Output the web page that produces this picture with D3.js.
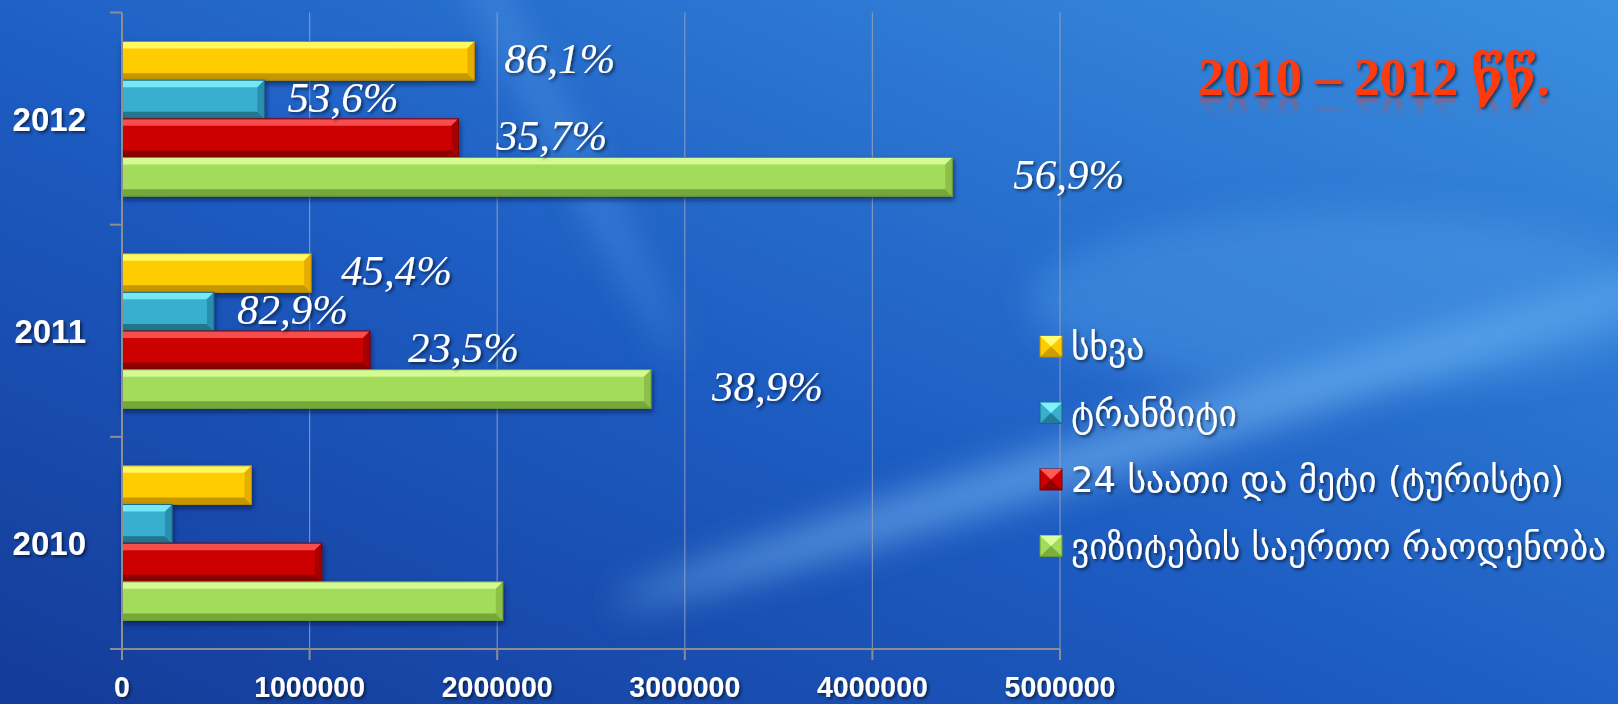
<!DOCTYPE html>
<html>
<head>
<meta charset="utf-8">
<script src="https://cdn.jsdelivr.net/npm/d3@7"></script>
<style>
  html, body { margin: 0; padding: 0; overflow: hidden; background: #1a4aa8; }
  svg { display: block; }
</style>
</head>
<body>
<svg id="chart" width="1618" height="704"></svg>
<script>
// data, rows in the order 2012, 2011, 2010
const years = ['2012', '2011', '2010']
const seriesNames = ['სხვა', 'ტრანზიტი', '24 საათი და მეტი (ტურისტი)', 'ვიზიტების საერთო რაოდენობა']
const otherValues = [1878000, 1008000, 690000]
const transitValues = [759000, 490000, 267000]
const touristValues = [1793000, 1322000, 1065000]
const totalValues = [4426000, 2820000, 2030000]
const otherLabels = ['86,1%', '45,4%', '']
const transitLabels = ['53,6%', '82,9%', '']
const touristLabels = ['35,7%', '23,5%', '']
const totalLabels = ['56,9%', '38,9%', '']
const xTicks = [0, 1000000, 2000000, 3000000, 4000000, 5000000]
const title = '2010 – 2012 წწ.'

const width = 1618, height = 704
const svg = d3.select('#chart')
const defs = svg.append('defs')

// background
const bg = defs.append('linearGradient').attr('id', 'bg')
    .attr('x1', '0').attr('y1', '1').attr('x2', '1').attr('y2', '0')
bg.append('stop').attr('offset', '0%').attr('stop-color', '#143b98')
bg.append('stop').attr('offset', '45%').attr('stop-color', '#1d5cc2')
bg.append('stop').attr('offset', '100%').attr('stop-color', '#3a8fe0')
svg.append('rect').attr('width', width).attr('height', height).attr('fill', 'url(#bg)')

defs.append('filter').attr('id', 'blur').attr('x', '-50%').attr('y', '-50%').attr('width', '200%').attr('height', '200%')
    .append('feGaussianBlur').attr('stdDeviation', 18)
const glow = svg.append('g').attr('filter', 'url(#blur)')
glow.append('ellipse').attr('cx', 1150).attr('cy', 440).attr('rx', 560).attr('ry', 22)
    .attr('transform', 'rotate(-17 1150 440)').attr('fill', '#8fd0ff').attr('opacity', 0.5)
glow.append('ellipse').attr('cx', 1350).attr('cy', 300).attr('rx', 320).attr('ry', 90)
    .attr('fill', '#5aa8f0').attr('opacity', 0.35)
glow.append('ellipse').attr('cx', 560).attr('cy', 130).attr('rx', 260).attr('ry', 14)
    .attr('transform', 'rotate(62 560 130)').attr('fill', '#7cc4ff').attr('opacity', 0.3)

const shadow = defs.append('filter').attr('id', 'shadow').attr('x', '-10%').attr('y', '-20%').attr('width', '130%').attr('height', '160%')
shadow.append('feDropShadow').attr('dx', 2).attr('dy', 2).attr('stdDeviation', 1.5)
    .attr('flood-color', '#000').attr('flood-opacity', 0.55)
const barShadow = defs.append('filter').attr('id', 'barShadow').attr('x', '-5%').attr('y', '-20%').attr('width', '110%').attr('height', '160%')
barShadow.append('feDropShadow').attr('dx', 1).attr('dy', 3).attr('stdDeviation', 2.5)
    .attr('flood-color', '#001030').attr('flood-opacity', 0.6)

// scales
const x = d3.scaleLinear().domain([0, 5000000]).range([122, 1060])
const y = d3.scaleBand().domain(years).range([12.5, 649]).padding(0)
const inner = d3.scaleBand().domain(d3.range(4)).range([29, y.bandwidth() - 28.5]).padding(0)

const series = [
    { values: otherValues, labels: otherLabels, base: '#ffcc00', light: '#ffff70', dark: '#b88a00', side: '#e6ae00', dx: 30 },
    { values: transitValues, labels: transitLabels, base: '#38afcf', light: '#80f2ff', dark: '#1b6880', side: '#2b8fae', dx: 23 },
    { values: touristValues, labels: touristLabels, base: '#cc0000', light: '#ff5a5a', dark: '#7a0000', side: '#a80000', dx: 38 },
    { values: totalValues, labels: totalLabels, base: '#a2dc5a', light: '#dcff9e', dark: '#6b9a32', side: '#8cc048', dx: 61 }
]

// grid
svg.append('g').selectAll('line').data(xTicks.slice(1)).enter().append('line')
    .attr('x1', d => x(d)).attr('x2', d => x(d))
    .attr('y1', 12.5).attr('y2', 649)
    .attr('stroke', '#9aa6bf').attr('stroke-opacity', 0.75).attr('stroke-width', 1.2)

// bars
const bevel = 7
series.forEach((s, si) => {
    const g = svg.append('g').attr('filter', 'url(#barShadow)')
    years.forEach((yr, i) => {
        const x0 = x(0), x1 = x(s.values[i])
        const y0 = y(yr) + inner(si), y1 = y0 + inner.bandwidth()
        const b = Math.min(bevel, (x1 - x0) / 2)
        const bar = g.append('g')
        bar.append('rect').attr('x', x0).attr('y', y0).attr('width', x1 - x0).attr('height', y1 - y0)
            .attr('fill', s.base)
        bar.append('polygon').attr('points', [[x0, y0], [x1, y0], [x1 - b, y0 + b], [x0, y0 + b]].join(' '))
            .attr('fill', s.light).attr('opacity', 0.85)
        bar.append('polygon').attr('points', [[x0, y1], [x1, y1], [x1 - b, y1 - b], [x0, y1 - b]].join(' '))
            .attr('fill', s.dark).attr('opacity', 0.8)
        bar.append('polygon').attr('points', [[x1, y0], [x1, y1], [x1 - b, y1 - b], [x1 - b, y0 + b]].join(' '))
            .attr('fill', s.side)
        bar.append('rect').attr('x', x0).attr('y', y0).attr('width', x1 - x0).attr('height', y1 - y0)
            .attr('fill', 'none').attr('stroke', s.dark).attr('stroke-width', 1)
    })
})

// axes
const axisColor = '#8d8d8d'
svg.append('line').attr('x1', x(0)).attr('x2', x(0)).attr('y1', 12.5).attr('y2', 660)
    .attr('stroke', axisColor).attr('stroke-width', 2)
svg.append('line').attr('x1', 110).attr('x2', x(5000000)).attr('y1', 649).attr('y2', 649)
    .attr('stroke', axisColor).attr('stroke-width', 2)
svg.append('g').selectAll('line').data(xTicks).enter().append('line')
    .attr('x1', d => x(d)).attr('x2', d => x(d)).attr('y1', 649).attr('y2', 660)
    .attr('stroke', axisColor).attr('stroke-width', 2)
const catTicks = [...years.map(d => y(d)), 649]
svg.append('g').selectAll('line').data(catTicks).enter().append('line')
    .attr('x1', 110).attr('x2', x(0)).attr('y1', d => d).attr('y2', d => d)
    .attr('stroke', axisColor).attr('stroke-width', 2)

// tick labels
svg.append('g').selectAll('text').data(xTicks).enter().append('text')
    .attr('transform', d => `translate(${x(d)},697) scale(0.95,1)`)
    .attr('text-anchor', 'middle')
    .attr('font-family', 'Liberation Sans, Arial, sans-serif').attr('font-weight', 'bold')
    .attr('font-size', 30).attr('fill', '#fff').attr('filter', 'url(#shadow)')
    .text(d => d)

svg.append('g').selectAll('text').data(years).enter().append('text')
    .attr('x', 86).attr('y', d => y(d) + y.bandwidth() / 2 + 12)
    .attr('text-anchor', 'end')
    .attr('font-family', 'Liberation Sans, Arial, sans-serif').attr('font-weight', 'bold')
    .attr('font-size', 33).attr('fill', '#fff').attr('filter', 'url(#shadow)')
    .text(d => d)

// value labels
series.forEach((s, si) => {
    svg.append('g').selectAll('text').data(years).enter().append('text')
        .attr('x', (d, i) => x(s.values[i]) + s.dx)
        .attr('y', d => y(d) + inner(si) + inner.bandwidth() / 2 - 3)
        .attr('dy', '0.35em')
        .attr('font-family', 'Liberation Serif, Times New Roman, serif').attr('font-style', 'italic')
        .attr('font-size', 43).attr('fill', '#fff').attr('filter', 'url(#shadow)')
        .text((d, i) => s.labels[i])
})

// legend
const legend = svg.append('g').attr('transform', 'translate(1040,336)')
seriesNames.forEach((name, i) => {
    const s = series[i]
    const g = legend.append('g').attr('transform', `translate(0,${i * 66.5})`)
    const w = 22, h = 21
    g.append('rect').attr('width', w).attr('height', h).attr('fill', s.base).attr('stroke', s.dark)
    g.append('polygon').attr('points', [[0, 0], [w, 0], [w / 2, h / 2]].join(' ')).attr('fill', s.light)
    g.append('polygon').attr('points', [[0, h], [w, h], [w / 2, h / 2]].join(' ')).attr('fill', s.dark).attr('opacity', 0.7)
    g.append('text').attr('x', 31).attr('y', h / 2).attr('dy', '0.36em')
        .attr('font-family', 'DejaVu Sans, sans-serif').attr('font-size', 35.5)
        .attr('fill', '#fff').attr('filter', 'url(#shadow)')
        .text(name)
})

// title with reflection
const fade = defs.append('linearGradient').attr('id', 'fade').attr('x1', 0).attr('y1', 0).attr('x2', 0).attr('y2', 1)
fade.append('stop').attr('offset', '0%').attr('stop-color', '#fff').attr('stop-opacity', 0.35)
fade.append('stop').attr('offset', '100%').attr('stop-color', '#fff').attr('stop-opacity', 0)
defs.append('mask').attr('id', 'fadeMask').append('rect')
    .attr('x', 1150).attr('y', 97).attr('width', 468).attr('height', 20).attr('fill', 'url(#fade)')
defs.append('text').attr('id', 'titleText').attr('x', 1198).attr('y', 95)
    .attr('font-family', 'Liberation Serif, DejaVu Serif, serif').attr('font-weight', 'bold')
    .attr('font-size', 52).attr('fill', '#ff3a10')
    .text(title)
const tg = svg.append('g')
tg.append('g').attr('mask', 'url(#fadeMask)')
    .append('use').attr('href', '#titleText').attr('transform', 'translate(0,192) scale(1,-1)')
tg.append('use').attr('href', '#titleText').attr('filter', 'url(#shadow)')
</script>
</body>
</html>
